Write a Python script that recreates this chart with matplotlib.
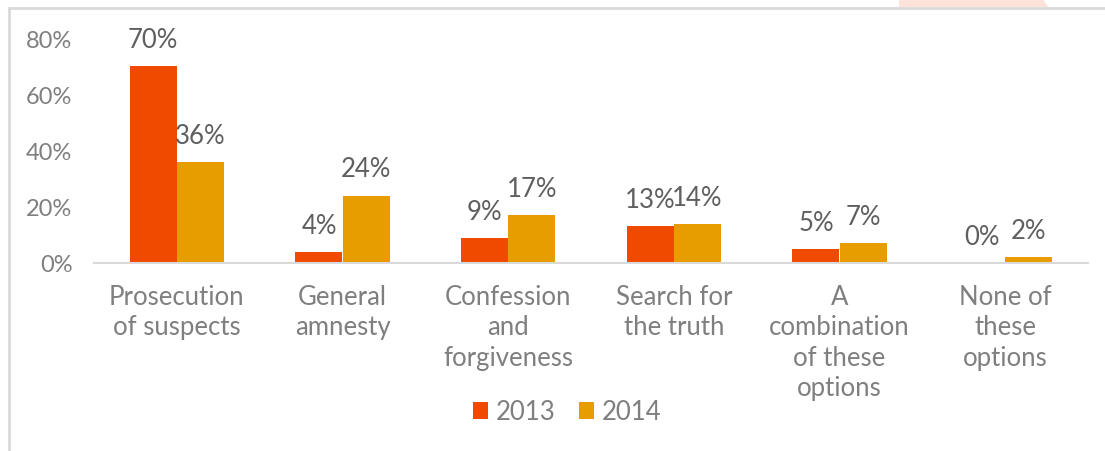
import numpy as np
import matplotlib.pyplot as plt
from matplotlib.patches import Rectangle, Polygon

# Datos de la encuesta
categorias = ['Prosecution\nof suspects', 'General\namnesty', 'Confession\nand\nforgiveness',
              'Search for\nthe truth', 'A\ncombination\nof these\noptions', 'None of\nthese\noptions']
valores_2013 = [70, 4, 9, 13, 5, 0]
valores_2014 = [36, 24, 17, 14, 7, 2]
ticks_y = [0, 20, 40, 60, 80]

color_2013 = '#EF4A00'
color_2014 = '#E79C00'
gris_texto = '#7F7F7F'
gris_etiqueta = '#5F5F5F'

plt.rcParams['font.family'] = ['Lato', 'DejaVu Sans']

fig = plt.figure(figsize=(11.05, 4.52), dpi=100)

# Marco del gráfico y forma decorativa de fondo
fig.patches.append(Polygon([[899 / 1105, 1.0], [899 / 1105, 444 / 452], [1048 / 1105, 444 / 452],
                            [1043 / 1105, 1.0]], closed=True, transform=fig.transFigure,
                           facecolor='#FDE3DA', edgecolor='none', zorder=0))
fig.patches.append(Rectangle((9 / 1105, -0.1), 1.2, 1.1 - 9 / 452,
                             transform=fig.transFigure, fill=False,
                             edgecolor='#D9D9D9', linewidth=2, zorder=1))

ax = fig.add_axes([94 / 1105, 1 - 264 / 452, 994 / 1105, 225 / 452])

x = np.arange(len(categorias))
ancho = 0.284
b1 = ax.bar(x - ancho / 2, valores_2013, ancho, color=color_2013, label='2013')
b2 = ax.bar(x + ancho / 2, valores_2014, ancho, color=color_2014, label='2014')

for barras, vals in [(b1, valores_2013), (b2, valores_2014)]:
    for rect, v in zip(barras, vals):
        ax.text(rect.get_x() + rect.get_width() / 2, v + 5.0, f'{v}%',
                ha='center', va='bottom', fontsize=18.5, color=gris_etiqueta)

ax.set_xlim(-0.5, len(categorias) - 0.5)
ax.set_ylim(0, 80)
ax.set_yticks(ticks_y)
ax.set_yticklabels([f'{t}%' for t in ticks_y])
ax.set_xticks(x)
ax.set_xticklabels(categorias, linespacing=1.27)
ax.tick_params(axis='both', length=0, colors=gris_texto)
ax.tick_params(axis='y', pad=15.5, labelsize=17)
ax.tick_params(axis='x', pad=15, labelsize=18.5)

for lado in ['top', 'right', 'left']:
    ax.spines[lado].set_visible(False)
ax.spines['bottom'].set_color('#D9D9D9')
ax.spines['bottom'].set_linewidth(1.5)

fig.legend(loc='center', bbox_to_anchor=(567 / 1105, 1 - 413 / 452), ncol=2,
           frameon=False, fontsize=18.5, labelcolor=gris_texto, handlelength=0.6,
           handleheight=0.6, handletextpad=0.3, columnspacing=0.9)

plt.savefig('out.png', dpi=100)
